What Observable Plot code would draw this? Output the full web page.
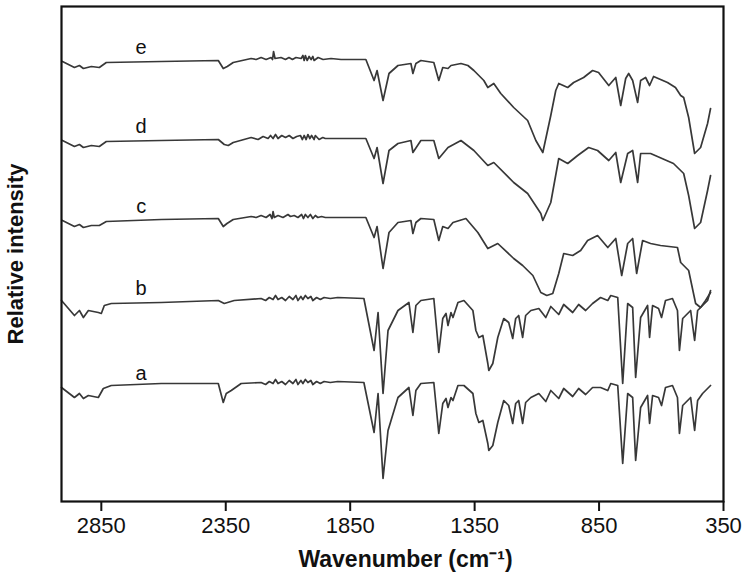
<!DOCTYPE html>
<html><head><meta charset="utf-8">
<script src="https://cdn.jsdelivr.net/npm/d3@7"></script>
<script src="https://cdn.jsdelivr.net/npm/@observablehq/plot@0.6"></script>
<style>body{margin:0;background:#fff}</style>
</head><body><div id="chart"></div>
<script>
// Tick labels (cm^-1)
const wavenumberTicks = [2850, 2350, 1850, 1350, 850, 350];
// Series names, bottom to top
const seriesNames = ["a", "b", "c", "d", "e"];
// Vertical stacking offsets of each trace (arbitrary intensity units)
const offsets = [114, 199, 281, 361, 440];
// Wavenumber at which the series letters are written
const labelWavenumber = 2690;
const labelLift = 14;

// Each trace: [wavenumber, intensity relative to its own baseline]
const traceA = [
[3010,0],[2958,-10],[2938,-6],[2922,-11],[2902,-8],[2862,-10],[2842,-1],[2810,2],[2609,4],[2380,4],[2360,-15],[2348,-6],[2328,-3],[2288,4],[2208,5],
[2190,3],[2175,6],[2160,4],[2150,8],[2140,4],[2125,6],[2110,3],[2095,7],[2080,4],[2068,8],[2060,3],[2048,7],[2040,4],[2030,8],[2020,5],[2008,7],[2000,3],[1985,6],[1970,4],[1955,6],[1930,5],[1900,6],[1795,5],
[1754,-45],[1738,-6],[1718,-91],[1698,-43],[1658,-10],[1614,0],[1598,-28],[1586,-3],[1566,4],[1514,5],[1494,-46],[1478,-16],[1465,-11],[1457,-20],[1445,-10],[1437,-13],[1417,2],[1393,2],[1357,-6],[1345,-26],[1333,-35],[1317,-33],[1297,-56],[1293,-63],[1277,-58],[1257,-35],[1233,-13],[1213,-18],[1197,-36],[1185,-16],[1173,-13],[1157,-36],[1145,-15],[1124,-10],[1092,-6],[1064,-14],[1044,-3],[1012,-11],[992,-1],[956,-9],[932,-1],[904,-7],[876,0],[844,0],[815,-3],[803,4],[775,2],[755,-76],[735,-6],[715,-10],[703,-73],[683,-20],[655,-8],[647,-36],[635,-8],[611,-10],[599,-18],[583,0],[555,2],[535,-10],[527,-46],[514,-18],[502,-15],[482,-10],[466,-43],[454,-13],[434,-6],[414,-1],[402,2]
];
const traceB = [
[3010,2],[2958,-13],[2938,-8],[2922,-15],[2902,-8],[2862,-10],[2850,-11],[2838,-3],[2810,-1],[2609,0],[2380,2],[2356,-1],[2316,2],[2208,4],
[2190,2],[2175,5],[2160,3],[2150,7],[2140,3],[2125,5],[2110,2],[2095,6],[2080,3],[2068,7],[2060,2],[2048,6],[2040,3],[2030,7],[2020,4],[2008,6],[2000,2],[1985,5],[1970,3],[1955,5],[1930,4],[1900,5],[1795,4],
[1754,-48],[1738,-10],[1718,-91],[1698,-28],[1658,-8],[1614,0],[1598,-30],[1586,-3],[1566,2],[1514,4],[1494,-50],[1478,-16],[1465,-11],[1457,-23],[1445,-10],[1437,-15],[1417,0],[1393,2],[1357,-8],[1345,-28],[1333,-35],[1317,-33],[1297,-61],[1293,-68],[1277,-61],[1257,-35],[1233,-16],[1213,-20],[1197,-36],[1185,-16],[1173,-13],[1157,-35],[1145,-13],[1124,-8],[1092,-6],[1064,-15],[1044,-4],[1012,-12],[992,-2],[956,-10],[932,-2],[904,-8],[876,-1],[844,5],[815,2],[803,7],[775,5],[755,-81],[735,-1],[715,-5],[703,-75],[683,-15],[655,-3],[647,-35],[635,-3],[611,-6],[599,-15],[583,2],[555,4],[535,-8],[527,-48],[514,-16],[502,-13],[482,-8],[466,-38],[454,-8],[434,-3],[414,2],[402,12]
];
const traceC = [
[3006,0],[2958,-6],[2938,-4],[2922,-7],[2890,-5],[2858,-5],[2830,-1],[2609,1],[2380,2],[2360,-6],[2345,-3],[2320,1],[2248,4],
[2228,3],[2208,5],[2188,3],[2172,6],[2164,2],[2160,9],[2155,3],[2140,5],[2120,3],[2100,6],[2090,4],[2075,5],[2060,3],[2045,6],[2038,2],[2030,6],[2020,3],[2010,6],[2000,2],[1990,5],[1980,3],[1965,4],[1950,3],[1900,3],[1787,3],
[1754,-17],[1742,-6],[1718,-48],[1694,-12],[1658,-2],[1606,0],[1598,-13],[1586,-2],[1566,2],[1514,1],[1494,-20],[1478,-6],[1457,-8],[1437,-2],[1385,2],[1337,-12],[1297,-28],[1257,-23],[1193,-38],[1157,-45],[1116,-55],[1084,-72],[1060,-75],[1036,-73],[1012,-53],[992,-33],[956,-35],[924,-30],[896,-20],[856,-15],[815,-27],[783,-18],[759,-55],[735,-23],[715,-18],[699,-53],[675,-20],[643,-23],[603,-25],[535,-27],[522,-42],[490,-50],[462,-83],[442,-87],[422,-80],[402,-72]
];
const traceD = [
[3006,0],[2958,-6],[2938,-4],[2922,-7],[2890,-5],[2858,-6],[2830,-1],[2609,0],[2380,1],[2356,-4],[2340,-5],[2320,-2],[2248,3],
[2220,1],[2200,4],[2180,2],[2170,5],[2160,2],[2150,6],[2140,2],[2125,5],[2110,3],[2095,5],[2080,2],[2065,4],[2050,5],[2042,1],[2035,5],[2027,1],[2020,6],[2012,2],[2005,5],[1995,1],[1990,5],[1975,1],[1960,3],[1950,2],[1900,2],[1787,2],
[1754,-18],[1742,-7],[1718,-43],[1694,-10],[1658,-3],[1606,0],[1598,-12],[1566,0],[1514,0],[1494,-18],[1457,-7],[1405,0],[1353,-10],[1297,-25],[1273,-22],[1193,-42],[1137,-53],[1084,-73],[1076,-80],[1044,-62],[1012,-18],[976,-23],[936,-15],[892,-7],[856,-10],[811,-20],[783,-12],[763,-42],[735,-13],[715,-10],[695,-42],[683,-13],[643,-13],[551,-23],[510,-33],[490,-55],[466,-88],[442,-82],[414,-50],[402,-35]
];
const traceE = [
[3006,0],[2958,-6],[2938,-4],[2922,-7],[2890,-5],[2858,-6],[2830,-1],[2609,0],[2380,1],[2360,-7],[2344,-5],[2320,-1],[2248,3],
[2228,2],[2208,4],[2188,2],[2168,4],[2162,2],[2158,10],[2152,3],[2128,4],[2110,2],[2096,4],[2082,2],[2068,4],[2047,3],[2040,6],[2035,1],[2030,6],[2023,1],[2015,5],[2007,2],[2000,5],[1995,1],[1979,4],[1959,2],[1927,3],[1887,2],[1787,2],
[1754,-19],[1742,-9],[1718,-39],[1694,-12],[1658,-4],[1606,-2],[1598,-12],[1586,-2],[1566,1],[1514,-1],[1494,-19],[1478,-6],[1457,-7],[1445,-4],[1405,-2],[1377,-4],[1353,-9],[1313,-19],[1297,-26],[1273,-22],[1245,-32],[1193,-46],[1137,-59],[1104,-79],[1076,-91],[1044,-54],[1024,-29],[1012,-22],[976,-26],[952,-21],[912,-16],[876,-9],[852,-11],[811,-24],[783,-16],[763,-44],[743,-17],[731,-12],[715,-19],[695,-41],[683,-19],[663,-16],[647,-24],[631,-15],[575,-21],[543,-26],[522,-34],[510,-36],[490,-56],[466,-92],[442,-86],[414,-62],[402,-47]
];
const traces = [traceA, traceB, traceC, traceD, traceE];

const rows = [];
traces.forEach((t, i) => t.forEach(([wn, dev]) => rows.push({series: seriesNames[i], wn, v: offsets[i] + dev})));
const labelRows = seriesNames.map((s, i) => ({label: s, wn: labelWavenumber, v: offsets[i] + labelLift}));

const chart = Plot.plot({
  width: 750, height: 580,
  marginLeft: 61, marginRight: 27, marginTop: 6, marginBottom: 79,
  style: {fontFamily: "'Liberation Sans', Arial, sans-serif", background: "#fff", color: "#111"},
  x: {domain: [3010, 350]},
  y: {domain: [0, 495], axis: null},
  marks: [
    Plot.line(rows, {x: "wn", y: "v", z: "series", stroke: "#383838", strokeWidth: 1.7, strokeLinejoin: "round"}),
    Plot.text(labelRows, {x: "wn", y: "v", text: "label", fontSize: 20, fill: "#111"}),
    Plot.frame({stroke: "#111", strokeWidth: 2.2}),
    Plot.axisX({ticks: wavenumberTicks, tickSize: 10, tickPadding: 6, fontSize: 22, strokeWidth: 2, label: null, tickFormat: d => String(d)}),
    Plot.text(["Wavenumber (cm⁻¹)"], {frameAnchor: "bottom", dy: 58, dx: 13, fontSize: 23, fontWeight: "bold", textAnchor: "middle", lineAnchor: "middle", text: d => d, fill: "#111"}),
    Plot.text(["Relative intensity"], {frameAnchor: "left", dx: -46, rotate: -90, fontSize: 22, fontWeight: "bold", textAnchor: "middle", lineAnchor: "middle", text: d => d, fill: "#111"})
  ]
});
document.getElementById("chart").appendChild(chart);
</script>
</body></html>
